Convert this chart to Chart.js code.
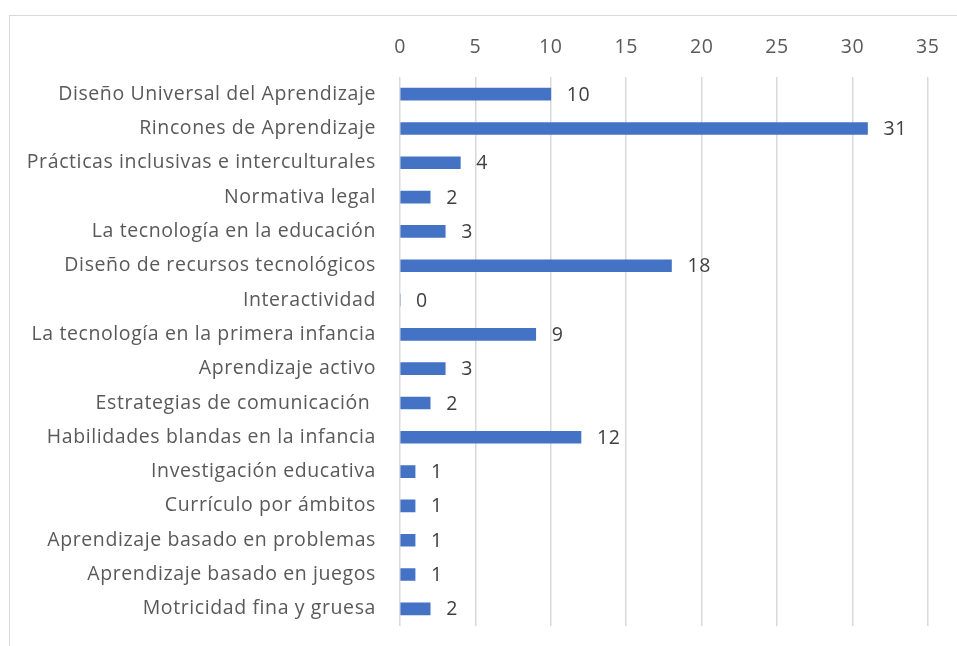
<!DOCTYPE html>
<html>
<head>
<meta charset="utf-8">
<script src="https://cdn.jsdelivr.net/npm/chart.js@4"></script>
<style>
  body { margin: 0; background: #fff; }
  #frame { position: absolute; left: 9px; top: 15px; width: 960px; height: 640px; border-left: 1px solid #d9d9d9; border-top: 1px solid #d9d9d9; }
  #wrap { position: absolute; left: 0; top: 0; width: 957px; height: 646px; }
</style>
</head>
<body>
<div id="frame"></div>
<div id="wrap"><canvas id="graph"></canvas></div>
<script>
const categories = [
  'Diseño Universal del Aprendizaje',
  'Rincones de Aprendizaje',
  'Prácticas inclusivas e interculturales',
  'Normativa legal',
  'La tecnología en la educación',
  'Diseño de recursos tecnológicos',
  'Interactividad',
  'La tecnología en la primera infancia',
  'Aprendizaje activo',
  'Estrategias de comunicación ',
  'Habilidades blandas en la infancia',
  'Investigación educativa',
  'Currículo por ámbitos',
  'Aprendizaje basado en problemas',
  'Aprendizaje basado en juegos',
  'Motricidad fina y gruesa'
];
const counts = [10, 31, 4, 2, 3, 18, 0, 9, 3, 2, 12, 1, 1, 1, 1, 2];
const xTicks = [0, 5, 10, 15, 20, 25, 30, 35];

const fontFamily = "'Open Sans', 'Noto Sans', sans-serif";
const fontSize = 19.5;

// a little letter spacing so the text is as wide as the original
const spacing = {
  id: 'spacing',
  beforeDraw(chart) { chart.ctx.letterSpacing = '0.6px'; }
};

// Draw the value next to the end of every bar
const barValues = {
  id: 'barValues',
  afterDatasetsDraw(chart) {
    const ctx = chart.ctx;
    const meta = chart.getDatasetMeta(0);
    ctx.save();
    ctx.font = fontSize + 'px ' + fontFamily;
    ctx.fillStyle = '#404040';
    ctx.textAlign = 'left';
    ctx.textBaseline = 'middle';
    meta.data.forEach(function(bar, i) {
      ctx.fillText(String(counts[i]), bar.x + 16, bar.y + 1);
    });
    ctx.restore();
  }
};

const ctx = document.getElementById('graph').getContext('2d');
const chart = new Chart(ctx, {
  type: 'bar',
  data: {
    labels: categories,
    datasets: [{
      data: counts,
      backgroundColor: '#4472c4',
      borderWidth: 0,
      barThickness: 12
    }]
  },
  options: {
    indexAxis: 'y',
    responsive: true,
    maintainAspectRatio: false,
    animation: false,
    layout: { padding: { left: 0, right: 25, top: 0, bottom: 20 } },
    plugins: {
      legend: { display: false },
      tooltip: { enabled: false }
    },
    scales: {
      x: {
        position: 'top',
        min: 0,
        max: 35,
        afterBuildTicks: function(axis) {
          axis.ticks = xTicks.map(v => ({ value: v }));
        },
        afterFit: function(axis) { axis.height = 77; },
        border: { display: false },
        grid: { color: '#d9d9d9', lineWidth: 1.5, drawTicks: false },
        ticks: {
          padding: 18,
          color: '#595959',
          font: { family: fontFamily, size: fontSize }
        }
      },
      y: {
        afterFit: function(axis) {
          axis.width = 400;
          axis.paddingTop = 0;
          axis.paddingBottom = 0;
        },
        border: { display: false },
        grid: { display: false, drawTicks: false },
        ticks: {
          padding: 24,
          color: '#595959',
          font: { family: fontFamily, size: fontSize }
        }
      }
    }
  },
  plugins: [spacing, barValues]
});
</script>
</body>
</html>
